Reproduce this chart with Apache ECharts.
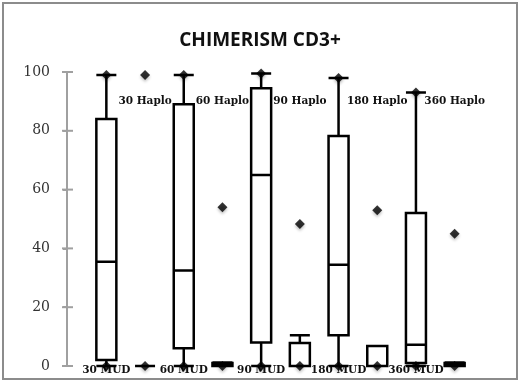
<!DOCTYPE html>
<html>
<head>
<meta charset="utf-8">
<script src="https://cdn.jsdelivr.net/npm/echarts@6/dist/echarts.min.js"></script>
<style>
  html, body { margin: 0; padding: 0; background: #fff; }
  #chart { width: 520px; height: 383px; }
</style>
</head>
<body>
<div id="chart"></div>
<script>
// 分组（MUD / Haplo 交替）
var categories = ['30 MUD', '30 Haplo', '60 MUD', '60 Haplo', '90 MUD', '90 Haplo',
                  '180 MUD', '180 Haplo', '360 MUD', '360 Haplo'];
// 箱线数据 [min, Q1, median, Q3, max]
var boxMin    = [0, 0, 0, 0, 0, 0, 0, 0, 0, 0];
var boxQ1     = [2, 0, 6, 0, 8, 0, 10.5, 0, 1, 0];
var boxMedian = [35.5, 0, 32.5, 0.5, 65, 0, 34.4, 0, 7.2, 0.5];
var boxQ3     = [84, 0, 89, 1, 94.5, 7.8, 78.2, 6.8, 52, 1];
var boxMax    = [99, 0, 99, 1.2, 99.5, 10.5, 98, 6.8, 93, 1.2];
// 菱形点：最高值 / 最低值
var pointHigh = [99, 99, 99, 54, 99.5, 48.3, 98, 53, 93, 45];
var pointLow  = [0, 0, 0, 0, 0, 0, 0, 0, 0, 0];
var yTicks = [0, 20, 40, 60, 80, 100];

var W = 520, H = 383;
var gridLeft = 87, gridRight = 46, gridTop = 72, gridBottom = 17;
var axisOffset = 20;
var axisGrey = '#a0a0a0';

var myChart = echarts.init(document.getElementById('chart'));

var boxData = [];
for (var i = 0; i < categories.length; i++) {
  boxData.push([boxMin[i], boxQ1[i], boxMedian[i], boxQ3[i], boxMax[i]]);
}
var diamonds = [];
for (var j = 0; j < categories.length; j++) {
  diamonds.push([categories[j], pointHigh[j]]);
  diamonds.push([categories[j], pointLow[j]]);
}

var catFont = {
  fontFamily: 'DejaVu Serif',
  fontWeight: 'bold',
  fontSize: 10.5,
  color: '#111'
};

// 纵轴线 + 十字刻度（用细矩形画，按轴范围换算位置）
var yMin = yTicks[0], yMax = yTicks[yTicks.length - 1];
var axisX = gridLeft - axisOffset;
var plotH = H - gridTop - gridBottom;
var extra = [{
  type: 'rect',
  shape: { x: axisX - 1, y: gridTop - 1, width: 2, height: plotH + 2 },
  style: { fill: axisGrey },
  z: 50
}];
yTicks.forEach(function (t) {
  var py = gridTop + (yMax - t) / (yMax - yMin) * plotH;
  extra.push({
    type: 'rect',
    shape: { x: axisX - 5, y: py - 1, width: 11, height: 2 },
    style: { fill: axisGrey },
    z: 50
  });
});
// 外框
extra.push({
  type: 'rect',
  shape: { x: 3, y: 3, width: 514, height: 376 },
  style: { fill: 'none', stroke: '#8c8c8c', lineWidth: 2 },
  z: 100
});

option = {
  animation: false,
  title: {
    text: 'CHIMERISM CD3+',
    left: 'center',
    top: 26,
    padding: [5, 0, 5, 0],
    textStyle: {
      fontFamily: 'Open Sans',
      fontWeight: 'bold',
      fontSize: 19,
      color: '#111'
    }
  },
  graphic: extra,
  grid: { left: gridLeft, right: gridRight, top: gridTop, bottom: gridBottom },
  xAxis: [{
    type: 'category',
    data: categories,
    position: 'bottom',
    axisLine: { show: false },
    axisTick: { show: false },
    splitLine: { show: false },
    axisLabel: Object.assign({
      interval: 0,
      margin: -1,
      formatter: function (v, idx) { return idx % 2 === 0 ? v : ''; }
    }, catFont)
  }, {
    type: 'category',
    data: categories,
    position: 'top',
    offset: -35,
    axisLine: { show: false },
    axisTick: { show: false },
    splitLine: { show: false },
    axisLabel: Object.assign({
      interval: 0,
      margin: 0,
      formatter: function (v, idx) { return idx % 2 === 1 ? v : ''; }
    }, catFont)
  }],
  yAxis: [{
    type: 'value',
    position: 'left',
    min: yMin,
    max: yMax,
    interval: 20,
    offset: axisOffset,
    splitLine: { show: false },
    axisLine: { show: true, onZero: false, lineStyle: { color: axisGrey, width: 2 } },
    axisTick: { show: true, inside: false, length: 4, lineStyle: { color: axisGrey, width: 2 } },
    axisLabel: {
      margin: 17,
      fontFamily: 'DejaVu Serif',
      fontSize: 14,
      color: '#333'
    }
  }],
  series: [{
    name: 'box',
    type: 'boxplot',
    data: boxData,
    boxWidth: [20, 20],
    itemStyle: { color: '#fff', borderColor: '#000', borderWidth: 2.5 },
    z: 2
  }, {
    name: 'points',
    type: 'scatter',
    data: diamonds,
    symbol: 'diamond',
    symbolSize: [10, 10],
    itemStyle: {
      color: '#000',
      shadowColor: 'rgba(0,0,0,0.3)',
      shadowBlur: 3,
      shadowOffsetY: 2
    },
    z: 3
  }]
};

myChart.setOption(option);
</script>
</body>
</html>
